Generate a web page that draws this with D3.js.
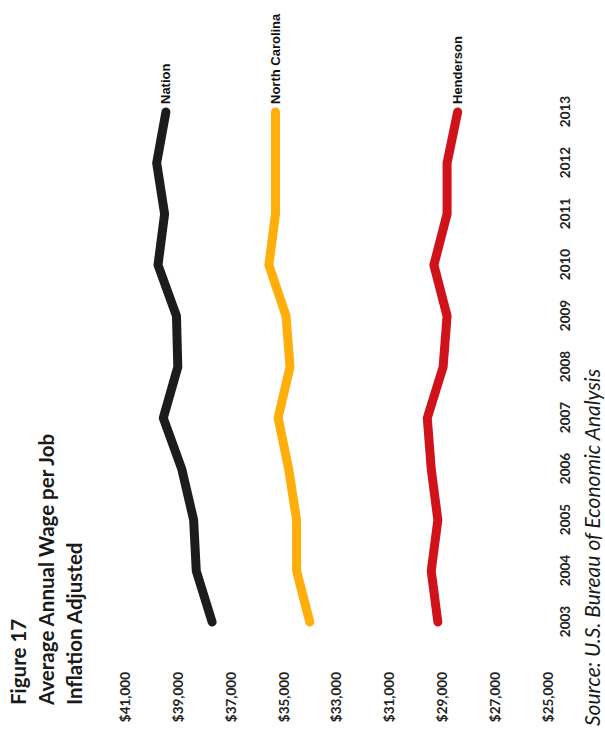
<!DOCTYPE html>
<html><head><meta charset="utf-8">
<script src="https://cdn.jsdelivr.net/npm/d3@7"></script>
<style>html,body{margin:0;padding:0;background:#fff;}svg{display:block;}</style>
</head><body>
<script>
const years = [2003,2004,2005,2006,2007,2008,2009,2010,2011,2012,2013];
const nation = [37700,38300,38400,38850,39550,39000,39050,39750,39500,39800,39450];
const northCarolina = [34000,34500,34500,34800,35200,34750,34900,35550,35300,35300,35300];
const henderson = [29150,29400,29150,29400,29550,28950,28800,29300,28800,28800,28400];
const seriesNames = ["Nation","North Carolina","Henderson"];
const seriesColors = ["#1c1c1c","#ffae0a","#d0121b"];
const valueTicks = [41000,39000,37000,35000,33000,31000,29000,27000,25000];
const titleLines = ["Figure 17","Average Annual Wage per Job","Inflation Adjusted"];
const sourceText = "Source: U.S. Bureau of Economic Analysis";

const W = 605, H = 729;
const svg = d3.select("body").append("svg").attr("width", W).attr("height", H);
// chart drawn in an unrotated frame (width H, height W), then rotated -90deg
const g = svg.append("g").attr("transform", `translate(0,${H}) rotate(-90)`);

const x = d3.scalePoint().domain(years).range([107, 617]);
const y = d3.scaleLinear().domain([41000, 25000]).range([125, 547.4]);

const allSeries = [nation, northCarolina, henderson];
const line = d3.line().x((d,i)=>x(years[i])).y(d=>y(d));

allSeries.forEach((s, k) => {
  g.append("path").datum(s).attr("d", line)
    .attr("fill","none").attr("stroke", seriesColors[k])
    .attr("stroke-width", 9).attr("stroke-linecap","round").attr("stroke-linejoin","round");
  g.append("text").attr("x", x(years[years.length-1]) + 8).attr("y", y(s[s.length-1]))
    .attr("dy","0.35em")
    .style("font-family","'Liberation Sans', Arial, sans-serif").style("font-weight","bold")
    .style("font-size","13px").attr("fill","#111").text(seriesNames[k]);
});

// value axis labels (left of chart in rotated frame)
const yAxis = d3.axisLeft(y).tickValues(valueTicks).tickSize(0).tickPadding(0)
  .tickFormat(d => "$" + d3.format(",")(d));
const ya = g.append("g").attr("transform","translate(57,0)").call(yAxis);
ya.select(".domain").remove();
ya.selectAll("text").attr("dy","0.35em")
  .style("font-family","Lato, sans-serif").style("font-weight","bold").style("font-size","13.5px").attr("fill","#222");

// year axis labels (below chart)
const xAxis = d3.axisBottom(x).tickSize(0).tickPadding(0).tickFormat(d3.format("d"));
const xa = g.append("g").attr("transform","translate(0,565)").call(xAxis);
xa.select(".domain").remove();
xa.selectAll("text").attr("dy","0.35em")
  .style("font-family","Lato, sans-serif").style("font-weight","bold").style("font-size","13.5px").attr("fill","#222");

// title
const titleY = [26, 54, 82];
titleLines.forEach((t,i) => {
  g.append("text").attr("x", 24).attr("y", titleY[i]).text(t)
    .style("font-family","Lato, sans-serif").style("font-weight","bold").style("font-size","20.5px").attr("fill","#1a1a1a");
});

// source
g.append("text").attr("x", 3).attr("y", 600).text(sourceText)
  .style("font-family","Lato, sans-serif").style("font-style","italic").style("font-size","21px").attr("fill","#1a1a1a");
</script>
</body></html>
